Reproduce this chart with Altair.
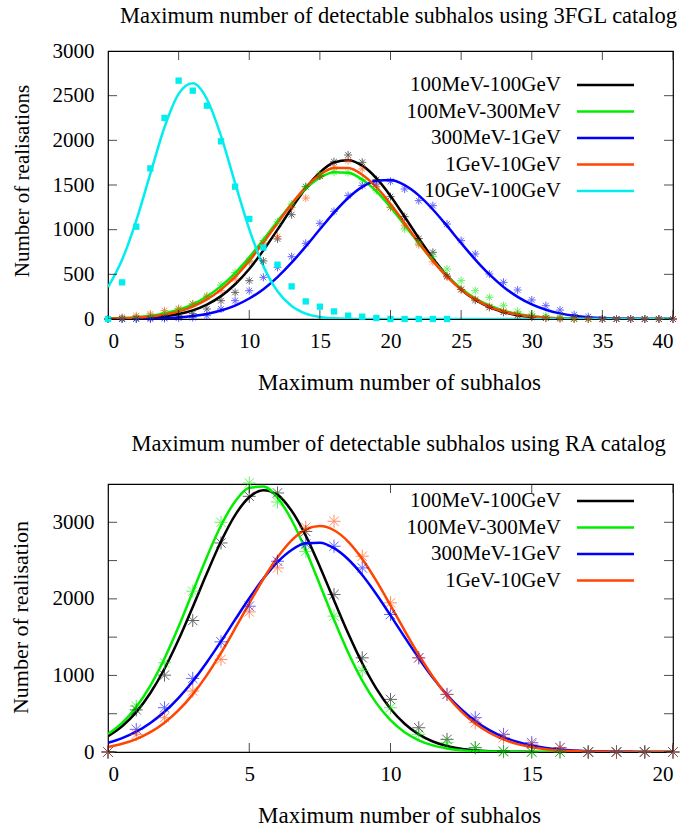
import altair as alt
import pandas as pd

FONT = "Liberation Serif"

# ---------------- top panel data (3FGL) ----------------
TOP_SERIES = ["100MeV-100GeV", "100MeV-300MeV", "300MeV-1GeV", "1GeV-10GeV", "10GeV-100GeV"]
TOP_COLORS = ["#000000", "#00ee00", "#0000ff", "#ff4500", "#00eeee"]
TOP_TITLE = "Maximum number of detectable subhalos using 3FGL catalog"
TOP_YTITLE = "Number of realisations"
X_TITLE = "Maximum number of subhalos"
TOP_XTICKS = [0, 5, 10, 15, 20, 25, 30, 35, 40]
TOP_YTICKS = [0, 500, 1000, 1500, 2000, 2500, 3000]

top_x = [0, 1, 2, 3, 4, 5, 6, 7, 8, 9, 10, 11, 12, 13, 14, 15, 16, 17, 18, 19, 20,
         21, 22, 23, 24, 25, 26, 27, 28, 29, 30, 31, 32, 33, 34, 35, 36, 37, 38, 39, 40]

# fitted curves (at each integer)
top_fit_black = [1.5, 3.5, 7.4, 15, 30, 55, 96, 161, 256, 389, 560, 768, 1000, 1240, 1463, 1641, 1752, 1778, 1717, 1577, 1378,
                 1145, 905, 681, 487, 331, 215, 132, 77, 43, 23, 11.5, 5.5, 2.5, 1, 0.4, 0, 0, 0, 0, 0]
top_fit_green = [5.4, 10.6, 20, 36, 63, 104, 165, 252, 368, 514, 690, 887, 1093, 1290, 1460, 1583, 1644, 1637, 1562, 1429, 1252,
                 1052, 847, 653, 483, 342, 232, 151, 94, 56, 32, 18, 9.4, 4.7, 2.2, 1, 0, 0, 0, 0, 0]
top_fit_blue = [0.5, 1.2, 2.5, 5, 9.8, 18, 33, 57, 95, 150, 229, 334, 469, 630, 812, 1004, 1191, 1355, 1479, 1548, 1555,
                1498, 1384, 1226, 1042, 850, 665, 499, 359, 248, 164, 104, 63, 37, 21, 11, 5.8, 2.8, 1.3, 0.6, 0.3]
top_fit_orange = [3.5, 7.2, 14, 27, 49, 84, 139, 219, 329, 473, 651, 855, 1073, 1287, 1475, 1615, 1690, 1690, 1615, 1475, 1287,
                  1073, 855, 651, 473, 329, 219, 139, 84, 49, 27, 14, 7, 3.5, 1.6, 0.7, 0, 0, 0, 0, 0]
top_fit_cyan = [357, 664, 1102, 1628, 2146, 2520, 2638, 2463, 2049, 1520, 1005, 592, 311, 146, 61, 23, 8, 2, 0.5, 0, 0,
                0, 0, 0, 0, 0, 0, 0, 0, 0, 0, 0, 0, 0, 0, 0, 0, 0, 0, 0, 0]

# measured points
top_pts_black = [0, 0, 5, 10, 20, 35, 60, 112, 205, 298, 429, 650, 896, 1168, 1481, 1600, 1760, 1836, 1754, 1560, 1370,
                 1146, 900, 746, 480, 330, 210, 130, 75, 40, 20, 10, 5, 0, 0, 0, 0, 0, 0, 0, 0]
top_pts_green = [0, 10, 20, 40, 70, 110, 170, 260, 380, 520, 653, 877, 1090, 1287, 1481, 1623, 1642, 1640, 1560, 1437, 1250,
                 1007, 850, 700, 560, 429, 317, 243, 149, 86, 56, 37, 19, 8, 4, 0, 0, 0, 0, 0, 0]
top_pts_blue = [0, 0, 0, 0, 5, 10, 15, 37, 112, 205, 317, 466, 578, 698, 847, 1071, 1205, 1381, 1493, 1511, 1541,
                1455, 1325, 1269, 1063, 877, 728, 504, 410, 325, 213, 149, 100, 48, 26, 0, 0, 0, 0, 0, 0]
top_pts_orange = [0, 19, 37, 56, 93, 119, 168, 250, 317, 448, 642, 850, 925, 1250, 1354, 1600, 1700, 1772, 1679, 1480, 1250,
                  1050, 830, 640, 470, 330, 220, 140, 85, 50, 27, 14, 7, 3, 0, 0, 0, 0, 0, 0, 0]
top_sq_x = [0, 1, 2, 3, 4, 5, 6, 7, 8, 9, 10, 11, 12, 13, 14, 15, 16, 17, 18, 19, 20, 21, 22, 23, 24]
top_sq_cyan = [0, 410, 1033, 1686, 2251, 2668, 2556, 2388, 1989, 1481, 1120, 800, 608, 365, 197, 138, 85, 37, 26, 11,
               0, 0, 0, 0, 0]

# ---------------- bottom panel data (RA) ----------------
BOT_SERIES = ["100MeV-100GeV", "100MeV-300MeV", "300MeV-1GeV", "1GeV-10GeV"]
BOT_COLORS = ["#000000", "#00ee00", "#0000ff", "#ff4500"]
BOT_TITLE = "Maximum number of detectable subhalos using RA catalog"
BOT_YTITLE = "Number of realisation"
BOT_XTICKS = [0, 5, 10, 15, 20]
BOT_YTICKS = [0, 500, 1000, 1500, 2000, 2500, 3000, 3500]

bot_fit_x = [0, 0.5, 1, 1.5, 2, 2.5, 3, 3.5, 4, 4.5, 5, 5.5, 6, 6.5, 7, 7.5, 8, 8.5, 9, 9.5, 10,
             10.5, 11, 11.5, 12, 12.5, 13, 13.5, 14, 14.5, 15, 15.5, 16, 16.5, 17, 17.5, 18, 18.5, 19, 19.5, 20]
bot_fit_black = [208, 337, 521, 770, 1087, 1468, 1894, 2334, 2749, 3094, 3327, 3419, 3358, 3150, 2826, 2420, 1982, 1550, 1159,
                 828, 565, 369, 230, 137, 78, 42, 22, 11, 5, 2.5, 1, 0, 0, 0, 0, 0, 0, 0, 0, 0, 0]
bot_fit_green = [234, 380, 588, 868, 1222, 1638, 2093, 2548, 2958, 3272, 3450, 3467, 3320, 3030, 2635, 2185, 1726, 1300, 933,
                 638, 416, 258, 153, 86, 47, 24, 12, 5.5, 2.5, 1, 0, 0, 0, 0, 0, 0, 0, 0, 0, 0, 0]
bot_fit_blue = [119, 181, 265, 379, 525, 707, 923, 1172, 1444, 1728, 2007, 2265, 2481, 2639, 2725, 2733, 2662, 2517, 2312,
                2061, 1785, 1500, 1225, 971, 747, 558, 405, 285, 195, 130, 84, 52, 32, 19, 11, 6, 3.3, 1.7, 0.9, 0.4, 0.2]
bot_fit_orange = [66, 107, 169, 259, 383, 546, 753, 1004, 1294, 1613, 1941, 2259, 2542, 2764, 2904, 2950, 2896, 2749, 2521,
                  2235, 1915, 1586, 1270, 983, 735, 531, 371, 251, 164, 103, 63, 37, 21, 12, 6.3, 3.3, 1.6, 0.8, 0.4, 0.2, 0.1]

bot_x = [0, 1, 2, 3, 4, 5, 6, 7, 8, 9, 10, 11, 12, 13, 14, 15, 16, 17, 18, 19, 20]
bot_pts_black = [0, 550, 1004, 1717, 2730, 3339, 3383, 2880, 2057, 1230, 687, 317, 165, 57, 10, 0, 0, 0, 0, 0, 0]
bot_pts_green = [0, 600, 1165, 2100, 3000, 3513, 3265, 2620, 1774, 1065, 578, 230, 122, 57, 0, 0, 0, 0, 0, 0, 0]
bot_pts_blue = [0, 296, 578, 961, 1439, 1904, 2491, 2717, 2687, 2404, 1796, 1230, 752, 448, 230, 122, 57, 0, 0, 0, 0]
bot_pts_orange = [0, 230, 448, 796, 1209, 1830, 2404, 2935, 3013, 2557, 1948, 1230, 752, 383, 187, 100, 57, 0, 0, 0, 0]

STAR = "M-1,0L1,0M0,-1L0,1M-0.72,-0.72L0.72,0.72M-0.72,0.72L0.72,-0.72"
LEGEND_LINE = "M-2,0L2,0"
CYAN = "#00eeee"


def long(xs, series_names, series_lists, colors):
    rows = []
    for name, vals, col in zip(series_names, series_lists, colors):
        for i, (x, v) in enumerate(zip(xs, vals)):
            rows.append({"x": x, "y": v, "series": name, "col": col, "order": i})
    return pd.DataFrame(rows)


def panel(title, title_offset, ytitle, ytitle_size, ytitle_y, xmax, ymax, xticks, yticks, series, colors,
          fit_x, fits, pt_x, pts, star_size, legend_y, squares=None):
    xscale = alt.Scale(domain=[0, xmax], nice=False, zero=False)
    yscale = alt.Scale(domain=[0, ymax], nice=False, zero=False)
    X = alt.X("x:Q", scale=xscale, title=X_TITLE,
              axis=alt.Axis(values=xticks, titleX=291, labelPadding=11, titlePadding=20))
    Y = alt.Y("y:Q", scale=yscale, title=ytitle,
              axis=alt.Axis(values=yticks, format="d", labelPadding=14, titlePadding=20,
                            titleFontSize=ytitle_size, titleY=ytitle_y))

    lines_df = long(fit_x, series, fits, colors)
    pts_df = long(pt_x, series[:len(pts)], pts, colors)

    layers = []
    # fitted curves (carry the legend)
    layers.append(alt.Chart(lines_df).mark_line(interpolate="monotone", strokeWidth=2.5, clip=True).encode(
        x=X, y=Y, order="order:Q",
        color=alt.Color("series:N", scale=alt.Scale(domain=series, range=colors),
                        legend=alt.Legend(title=None, orient="none", legendX=392,
                                          legendY={"expr": str(legend_y)},
                                          symbolType=LEGEND_LINE, symbolSize=812, symbolStrokeWidth=2.5,
                                          symbolFillColor="transparent",
                                          symbolOffset=90, labelAlign="right", labelOffset={"expr": "-60"},
                                          labelFont=FONT, labelFontSize=21, labelColor="black",
                                          labelLimit=400, rowPadding=0.5))))
    # measured points: colour taken straight from the data, no scale, no legend
    layers.append(alt.Chart(pts_df).mark_point(shape=STAR, size=star_size, filled=False,
                                               strokeWidth=1, opacity=0.6).encode(
        x=X, y=Y, stroke=alt.Stroke("col:N", scale=None)))
    if squares is not None:
        sq_df = pd.DataFrame({"x": squares[0], "y": squares[1]})
        layers.append(alt.Chart(sq_df).mark_point(shape="square", filled=True, size=40, opacity=1,
                                                  color=CYAN).encode(x=X, y=Y))

    xt = pd.DataFrame({"x": xticks})
    yt = pd.DataFrame({"y": yticks})
    tick_kw = dict(size=18, thickness=1, color="black", clip=True)
    layers.append(alt.Chart(xt).mark_tick(orient="vertical", **tick_kw).encode(x=X, y=alt.datum(0)))
    layers.append(alt.Chart(xt).mark_tick(orient="vertical", **tick_kw).encode(x=X, y=alt.datum(ymax)))
    layers.append(alt.Chart(yt).mark_tick(orient="horizontal", **tick_kw).encode(y=Y, x=alt.datum(0)))
    layers.append(alt.Chart(yt).mark_tick(orient="horizontal", **tick_kw).encode(y=Y, x=alt.datum(xmax)))

    return alt.layer(*layers).properties(
        width=565, height=268,
        title=alt.Title(title, font=FONT, fontSize=22.5, fontWeight="normal", color="black",
                        offset=title_offset, dx=8, frame="group"))


top = panel(TOP_TITLE, 13, TOP_YTITLE, 21, 129.5, 40, 3000, TOP_XTICKS, TOP_YTICKS, TOP_SERIES, TOP_COLORS,
            top_x, [top_fit_black, top_fit_green, top_fit_blue, top_fit_orange, top_fit_cyan],
            top_x, [top_pts_black, top_pts_green, top_pts_blue, top_pts_orange], 64, 18.5,
            squares=(top_sq_x, top_sq_cyan))
bottom = panel(BOT_TITLE, 19.4, BOT_YTITLE, 22, 133, 20, 3500, BOT_XTICKS, BOT_YTICKS, BOT_SERIES, BOT_COLORS,
               bot_fit_x, [bot_fit_black, bot_fit_green, bot_fit_blue, bot_fit_orange],
               bot_x, [bot_pts_black, bot_pts_green, bot_pts_blue, bot_pts_orange], 170, 1.5)

chart = alt.vconcat(top, bottom, spacing=36).resolve_scale(
    color="independent", x="independent", y="independent"
).configure_view(stroke="black", strokeWidth=1.2).configure_axis(
    domain=False, ticks=False, grid=False, labelFont=FONT, labelFontSize=21, labelColor="black",
    titleFont=FONT, titleFontSize=23, titleFontWeight="normal", titleColor="black"
).properties(padding={"left": 8, "top": 3, "right": 0, "bottom": 0}, background="white")

chart.save("out.html", embed_options={"renderer": "svg", "actions": False})
